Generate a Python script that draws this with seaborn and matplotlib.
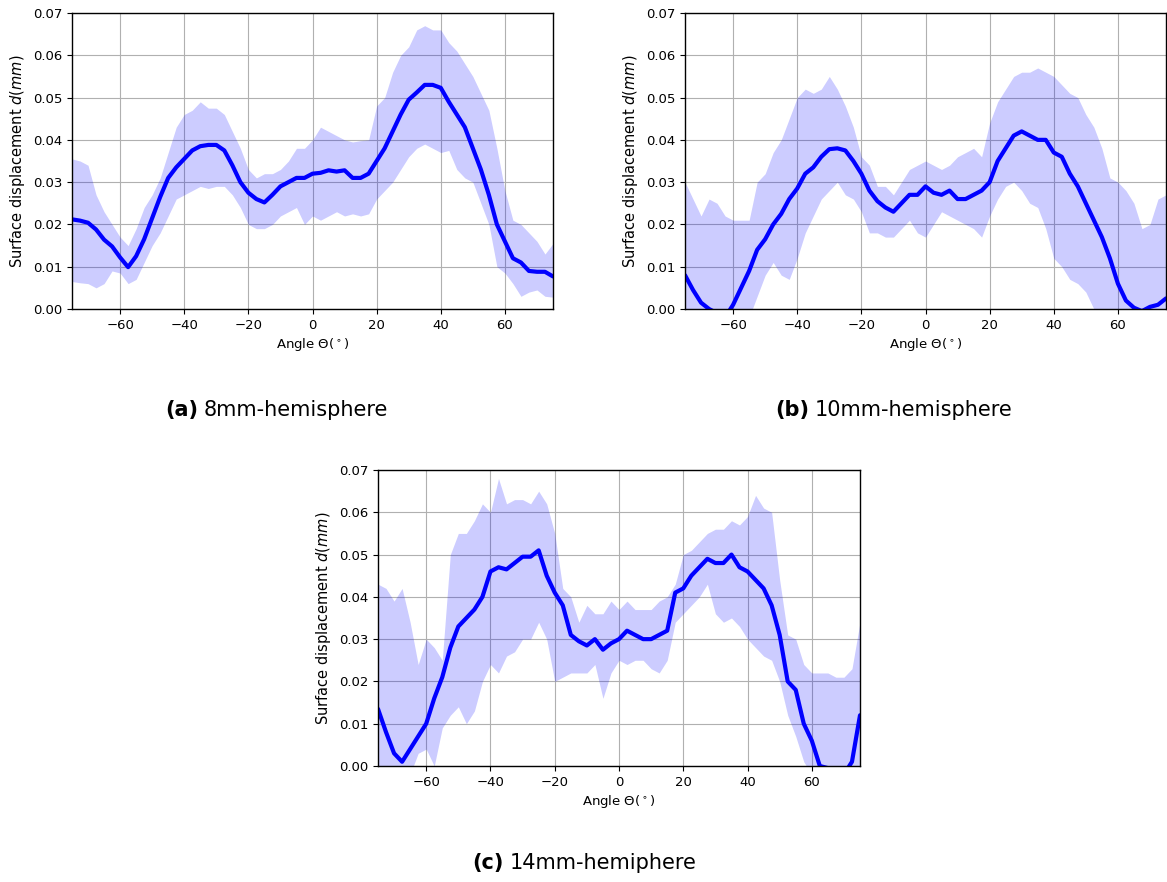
import numpy as np
import pandas as pd
import matplotlib
matplotlib.use("Agg")
import matplotlib.pyplot as plt
import seaborn as sns

theta = [-75, -72.5, -70, -67.5, -65, -62.5, -60, -57.5, -55, -52.5, -50, -47.5, -45, -42.5, -40,
         -37.5, -35, -32.5, -30, -27.5, -25, -22.5, -20, -17.5, -15, -12.5, -10, -7.5, -5, -2.5, 0,
         2.5, 5, 7.5, 10, 12.5, 15, 17.5, 20, 22.5, 25, 27.5, 30, 32.5, 35, 37.5, 40,
         42.5, 45, 47.5, 50, 52.5, 55, 57.5, 60, 62.5, 65, 67.5, 70, 72.5, 75]

# (a) 8mm-hemisphere
mean_a = [0.0212, 0.0209, 0.0204, 0.0188, 0.0164, 0.0148, 0.0122, 0.0099, 0.0125, 0.0165, 0.0215,
          0.0265, 0.0310, 0.0335, 0.0355, 0.0375, 0.0385, 0.0388, 0.0388, 0.0375, 0.0340, 0.0300,
          0.0275, 0.0260, 0.0252, 0.0270, 0.0290, 0.0300, 0.0310, 0.0310, 0.0320, 0.0322, 0.0328,
          0.0325, 0.0328, 0.0310, 0.0310, 0.0320, 0.0350, 0.0380, 0.0420, 0.0460, 0.0495, 0.0512,
          0.0530, 0.0530, 0.0523, 0.0490, 0.0460, 0.0430, 0.0380, 0.0330, 0.0270, 0.0200, 0.0160,
          0.0120, 0.0110, 0.0090, 0.0088, 0.0088, 0.0077]
upper_a = [0.0355, 0.0350, 0.0340, 0.0270, 0.0230, 0.0200, 0.0170, 0.0150, 0.0190, 0.0240, 0.0270,
           0.0310, 0.0370, 0.0430, 0.0460, 0.0470, 0.0490, 0.0475, 0.0475, 0.0460, 0.0420, 0.0380,
           0.0330, 0.0310, 0.0320, 0.0320, 0.0330, 0.0350, 0.0380, 0.0380, 0.0400, 0.0430, 0.0420,
           0.0410, 0.0400, 0.0395, 0.0398, 0.0400, 0.0480, 0.0500, 0.0560, 0.0600, 0.0620, 0.0660,
           0.0670, 0.0660, 0.0660, 0.0630, 0.0610, 0.0580, 0.0550, 0.0510, 0.0470, 0.0380, 0.0280,
           0.0210, 0.0200, 0.0180, 0.0160, 0.0130, 0.0155]
lower_a = [0.0065, 0.0062, 0.0060, 0.0050, 0.0060, 0.0090, 0.0085, 0.0060, 0.0070, 0.0110, 0.0150,
           0.0180, 0.0220, 0.0260, 0.0270, 0.0280, 0.0290, 0.0285, 0.0290, 0.0290, 0.0270, 0.0240,
           0.0200, 0.0190, 0.0190, 0.0200, 0.0220, 0.0230, 0.0240, 0.0200, 0.0220, 0.0210, 0.0220,
           0.0230, 0.0220, 0.0225, 0.0220, 0.0225, 0.0260, 0.0280, 0.0300, 0.0330, 0.0360, 0.0380,
           0.0390, 0.0380, 0.0370, 0.0375, 0.0330, 0.0310, 0.0300, 0.0250, 0.0200, 0.0100, 0.0085,
           0.0060, 0.0030, 0.0040, 0.0045, 0.0030, 0.0028]

# (b) 10mm-hemisphere
mean_b = [0.0080, 0.0045, 0.0015, 0.0000, -0.0010, -0.0020, 0.0010, 0.0050, 0.0090, 0.0140, 0.0165,
          0.0200, 0.0225, 0.0260, 0.0285, 0.0320, 0.0335, 0.0360, 0.0378, 0.0380, 0.0375, 0.0350,
          0.0320, 0.0280, 0.0255, 0.0240, 0.0230, 0.0250, 0.0270, 0.0270, 0.0290, 0.0275, 0.0270,
          0.0280, 0.0260, 0.0260, 0.0270, 0.0280, 0.0300, 0.0350, 0.0380, 0.0410, 0.0420, 0.0410,
          0.0400, 0.0400, 0.0370, 0.0360, 0.0320, 0.0290, 0.0250, 0.0210, 0.0170, 0.0120, 0.0060,
          0.0020, 0.0003, -0.0005, 0.0005, 0.0010, 0.0025]
upper_b = [0.0300, 0.0260, 0.0220, 0.0260, 0.0250, 0.0220, 0.0210, 0.0210, 0.0210, 0.0300, 0.0320,
           0.0370, 0.0400, 0.0450, 0.0500, 0.0520, 0.0510, 0.0520, 0.0550, 0.0520, 0.0480, 0.0430,
           0.0360, 0.0340, 0.0290, 0.0290, 0.0270, 0.0300, 0.0330, 0.0340, 0.0350, 0.0340, 0.0330,
           0.0340, 0.0360, 0.0370, 0.0380, 0.0360, 0.0440, 0.0490, 0.0520, 0.0550, 0.0560, 0.0560,
           0.0570, 0.0560, 0.0550, 0.0530, 0.0510, 0.0500, 0.0460, 0.0430, 0.0380, 0.0310, 0.0300,
           0.0280, 0.0250, 0.0190, 0.0200, 0.0260, 0.0270]
lower_b = [-0.002, -0.002, -0.002, -0.002, -0.002, -0.002, -0.002, -0.002, -0.002, 0.0030, 0.0080,
           0.0110, 0.0080, 0.0070, 0.0120, 0.0180, 0.0220, 0.0260, 0.0280, 0.0300, 0.0270, 0.0260,
           0.0230, 0.0180, 0.0180, 0.0170, 0.0170, 0.0190, 0.0210, 0.0180, 0.0170, 0.0200, 0.0230,
           0.0220, 0.0210, 0.0200, 0.0190, 0.0170, 0.0220, 0.0260, 0.0290, 0.0300, 0.0280, 0.0250,
           0.0240, 0.0190, 0.0120, 0.0100, 0.0070, 0.0060, 0.0040, 0.0000, -0.002, -0.002, -0.002,
           -0.002, -0.002, -0.002, -0.002, -0.002, -0.002]

# (c) 14mm-hemiphere
mean_c = [0.0135, 0.0080, 0.0030, 0.0010, 0.0040, 0.0070, 0.0100, 0.0160, 0.0210, 0.0280, 0.0330,
          0.0350, 0.0370, 0.0400, 0.0460, 0.0470, 0.0465, 0.0480, 0.0495, 0.0495, 0.0510, 0.0450,
          0.0410, 0.0380, 0.0310, 0.0295, 0.0285, 0.0300, 0.0275, 0.0290, 0.0300, 0.0320, 0.0310,
          0.0300, 0.0300, 0.0310, 0.0320, 0.0410, 0.0420, 0.0450, 0.0470, 0.0490, 0.0480, 0.0480,
          0.0500, 0.0470, 0.0460, 0.0440, 0.0420, 0.0380, 0.0310, 0.0200, 0.0180, 0.0100, 0.0060,
          0.0000, -0.0005, -0.0020, -0.0020, 0.0010, 0.0120]
upper_c = [0.0430, 0.0420, 0.0390, 0.0420, 0.0340, 0.0240, 0.0300, 0.0280, 0.0250, 0.0500, 0.0550,
           0.0550, 0.0580, 0.0620, 0.0600, 0.0680, 0.0620, 0.0630, 0.0630, 0.0620, 0.0650, 0.0620,
           0.0550, 0.0420, 0.0400, 0.0340, 0.0380, 0.0360, 0.0360, 0.0390, 0.0370, 0.0390, 0.0370,
           0.0370, 0.0370, 0.0390, 0.0400, 0.0430, 0.0500, 0.0510, 0.0530, 0.0550, 0.0560, 0.0560,
           0.0580, 0.0570, 0.0590, 0.0640, 0.0610, 0.0600, 0.0440, 0.0310, 0.0300, 0.0240, 0.0220,
           0.0220, 0.0220, 0.0210, 0.0210, 0.0230, 0.0340]
lower_c = [-0.002, -0.002, -0.002, -0.002, -0.002, 0.0030, 0.0040, 0.0000, 0.0090, 0.0120, 0.0140,
           0.0100, 0.0130, 0.0200, 0.0240, 0.0220, 0.0260, 0.0270, 0.0300, 0.0300, 0.0340, 0.0300,
           0.0200, 0.0210, 0.0220, 0.0220, 0.0220, 0.0240, 0.0160, 0.0220, 0.0250, 0.0240, 0.0250,
           0.0250, 0.0230, 0.0220, 0.0250, 0.0340, 0.0360, 0.0380, 0.0400, 0.0430, 0.0360, 0.0340,
           0.0350, 0.0330, 0.0300, 0.0280, 0.0260, 0.0250, 0.0200, 0.0120, 0.0070, 0.0010, -0.002,
           -0.002, -0.002, -0.002, -0.002, -0.002, -0.002]

panels = [
    ("(a)", "8mm-hemisphere", mean_a, lower_a, upper_a),
    ("(b)", "10mm-hemisphere", mean_b, lower_b, upper_b),
    ("(c)", "14mm-hemiphere", mean_c, lower_c, upper_c),
]

xticks = [-60, -40, -20, 0, 20, 40, 60]
yticks = [0.00, 0.01, 0.02, 0.03, 0.04, 0.05, 0.06, 0.07]

sns.set_theme(style="ticks", rc={
    "axes.edgecolor": "black",
    "axes.linewidth": 1.0,
    "axes.labelcolor": "black",
    "text.color": "black",
    "xtick.color": "black",
    "ytick.color": "black",
    "xtick.major.size": 3.5,
    "ytick.major.size": 3.5,
    "xtick.major.width": 0.8,
    "ytick.major.width": 0.8,
    "grid.color": "#b0b0b0",
    "grid.linewidth": 0.8,
})
plt.rcParams["font.family"] = ["DejaVu Sans"]
plt.rcParams["mathtext.fontset"] = "dejavusans"

W, H = 1167, 882
fig = plt.figure(figsize=(W / 100, H / 100), dpi=100)

# axes boxes in pixels: left, top, right, bottom
boxes = [(72, 13, 553, 309), (685, 13, 1166, 309), (378, 470, 860, 766)]
captions = [(165, 410), (775, 410), (472, 863)]

fig.canvas.draw()
renderer = fig.canvas.get_renderer()

for (bold, label, mean, lo, hi), (l, t, r, b), (cx, cy) in zip(panels, boxes, captions):
    ax = fig.add_axes([l / W, 1 - b / H, (r - l) / W, (b - t) / H])
    df = pd.DataFrame({"theta": theta, "mean": mean, "lo": lo, "hi": hi})
    ax.fill_between(df["theta"], df["lo"], df["hi"], color="blue", alpha=0.2, linewidth=0)
    sns.lineplot(data=df, x="theta", y="mean", color="blue", linewidth=3, ax=ax)
    ax.set_xlim(-75, 75)
    ax.set_ylim(0, 0.07)
    ax.set_xticks(xticks)
    ax.set_yticks(yticks)
    ax.set_yticklabels([f"{v:.2f}" for v in yticks])
    ax.tick_params(labelsize=9.5)
    ax.grid(True, color="#b0b0b0", linewidth=0.8)
    ax.set_axisbelow(True)
    ax.set_xlabel(r"Angle $\Theta(^\circ)$", fontsize=9.5, labelpad=3, color="black")
    ax.set_ylabel(r"Surface displacement $d(mm)$", fontsize=10.5, labelpad=4, color="black")

    tb = fig.text(cx / W, 1 - cy / H, bold, fontsize=15, fontweight="bold", ha="left",
                  va="center", color="black")
    ext = tb.get_window_extent(renderer=renderer)
    fig.text((ext.x1 + 6) / W, 1 - cy / H, label, fontsize=15, ha="left", va="center",
             color="black")

fig.savefig("out.png", dpi=100)
